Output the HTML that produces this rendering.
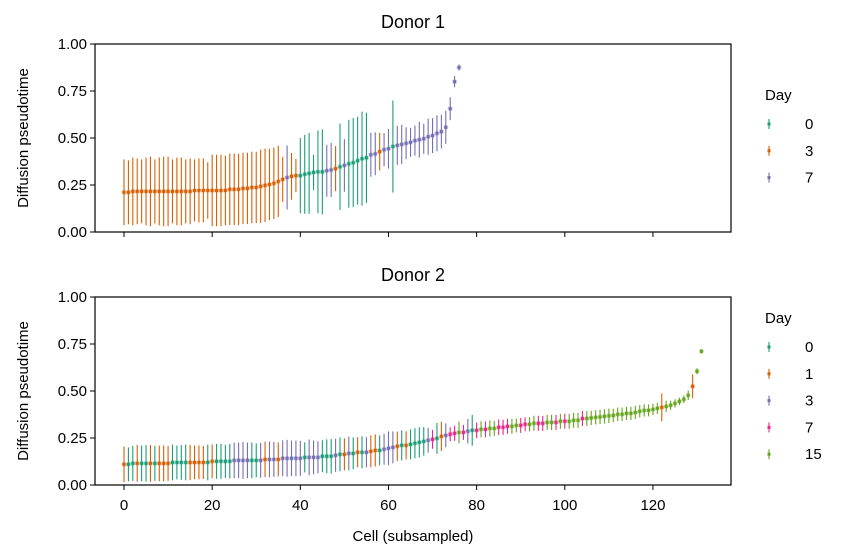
<!DOCTYPE html>
<html><head><meta charset="utf-8"><style>
body{margin:0;background:#fff;}
svg{display:block;font-family:"Liberation Sans","DejaVu Sans",sans-serif;}
</style></head><body>
<svg id="chart" width="849" height="559" viewBox="0 0 849 559">
<g id="g1"></g>
<g id="g2"></g>
</svg>
<script>
const d1Values=[.211,.211,.216,.216,.216,.216,.216,.216,.216,.216,.216,.216,.216,.216,.216,.216,.221,.221,.221,.221,.221,.221,.221,.221,.227,.227,.227,.232,.232,.237,.237,.243,.248,.253,.259,.269,.28,.29,
.296,.30,.30,.307,.312,.317,.32,.32,.326,.33,.337,.347,.354,.363,.369,.379,.39,.395,.411,.416,.427,.438,.443,.455,.461,.466,.472,.477,.486,.491,.496,.507,.513,.525,.534,.557,.656,.80,.875];
const d1Errors=[.175,.17,.18,.175,.17,.18,.185,.17,.18,.185,.185,.17,.18,.18,.17,.175,.165,.17,.17,.15,.19,.19,.19,.185,.19,.19,.19,.19,.19,.19,.19,.195,.195,.19,.19,.19,.12,.17,
.124,.088,.2,.21,.215,.094,.22,.226,.138,.144,.12,.23,.14,.234,.237,.234,.25,.24,.117,.114,.1,.088,.106,.245,.104,.104,.085,.077,.08,.095,.08,.096,.093,.096,.09,.088,.061,.03,.016];
const d1Days=[3,3,3,3,3,3,3,3,3,3,3,3,3,3,3,3,3,3,3,3,3,3,3,3,3,3,3,3,3,3,3,3,3,3,3,3,3,7,3,3,0,0,0,0,0,0,7,7,3,0,7,0,0,0,0,0,7,7,3,7,7,0,7,7,7,7,7,7,7,7,7,7,7,7,7,7,7];
const d1Legend=[0,3,7];

const d2Values=[.11,.11,.115,.115,.115,.115,.115,.115,.115,.115,.115,.12,.12,.12,.12,.12,.12,.12,.12,.12,.126,.126,.126,.126,.126,.131,.131,.131,.131,.131,.131,.131,.136,.136,.136,.136,.142,.142,.142,.142,.142,.147,.147,.147,.147,.153,.153,.153,.158,.163,
.163,.168,.168,.174,.174,.174,.179,.184,.184,.19,.195,.2,.206,.211,.211,.216,.222,.227,.232,.238,.243,.248,.259,.264,.27,.275,.28,.28,.286,.291,.291,.296,.296,.301,.301,.307,.307,.312,.312,.317,.317,.323,.323,.328,.328,.328,.333,.333,.333,.339,
.339,.339,.344,.344,.354,.354,.357,.36,.362,.365,.368,.37,.376,.376,.381,.381,.386,.392,.397,.397,.402,.408,.413,.418,.424,.434,.445,.456,.477,.525,.605,.711];
const d2Errors=[.095,.09,.093,.098,.095,.097,.098,.093,.095,.095,.093,.095,.09,.093,.095,.093,.09,.09,.088,.095,.09,.093,.093,.088,.092,
.095,.095,.098,.095,.095,.09,.093,.094,.095,.093,.09,.095,.098,.095,.095,.093,.08,.095,.09,.085,.085,.09,.092,.088,.09,
.085,.09,.085,.08,.085,.08,.085,.085,.08,.082,.09,.085,.078,.08,.075,.08,.08,.08,.076,.066,
.05,.082,.078,.064,.037,.04,.058,.04,.065,.082,.042,.043,.042,.043,.04,.042,.04,.04,.04,.037,.04,.037,.038,.04,.04,.04,.04,.04,.04,.04,
.04,.04,.04,.04,.04,.04,.038,.038,.038,.038,.038,.036,.036,.036,.035,.035,.035,.033,.033,.032,.03,.03,.074,.03,.025,.022,.02,.02,.025,.064,.016,.011];
const d2Days=[1,0,0,1,0,0,1,0,1,1,1,0,0,0,0,1,1,1,1,0,1,0,0,0,0,3,3,3,3,0,0,3,1,3,3,1,3,3,3,3,3,0,3,3,3,0,0,0,3,0,
1,3,0,1,0,3,1,1,0,3,3,3,1,0,1,0,0,0,0,3,7,0,1,3,7,7,15,7,3,0,7,15,7,15,15,7,7,7,15,15,7,7,15,15,7,7,15,15,7,15,
7,15,15,15,7,15,15,15,15,15,15,15,15,15,15,15,15,15,15,15,15,15,1,15,15,15,15,15,15,1,15,15];
const d2Legend=[0,1,3,7,15];
const xTicks=[0,20,40,60,80,100,120];
const yTicks=[0,0.25,0.5,0.75,1.0];

const NS="http://www.w3.org/2000/svg";
const colors1={0:"#1b9e77",3:"#d95f02",7:"#7570b3"};
const colors2={0:"#1b9e77",1:"#d95f02",3:"#7570b3",7:"#e7298a",15:"#66a61e"};
const L=95,R=731;
function xs(i){return 124+i*4.408;}
function mk(tag,attrs,parent){const e=document.createElementNS(NS,tag);for(const k in attrs)e.setAttribute(k,attrs[k]);parent.appendChild(e);return e;}

function panel(g,top,vals,errs,days,cols,legend,title,showXLabels,legTop){
  const bot=top+188;
  const ys=v=>bot-v*188;
  const t=mk("text",{x:413,y:top-16,"text-anchor":"middle","font-size":18,fill:"#000"},g);
  t.textContent=title;
  
  
  const yl=mk("text",{x:0,y:0,transform:`translate(28,${top+94}) rotate(-90)`,"text-anchor":"middle","font-size":15,fill:"#000"},g);
  yl.textContent="Diffusion pseudotime";
  
  
  yTicks.forEach(v=>{
    mk("line",{x1:L-5,x2:L,y1:ys(v),y2:ys(v),stroke:"#000","stroke-width":1},g);
    const tl=mk("text",{x:L-8,y:ys(v)+5,"text-anchor":"end","font-size":15,fill:"#000"},g);
    tl.textContent=v.toFixed(2);
    
    
  });
  xTicks.forEach(v=>{
    mk("line",{x1:xs(v),x2:xs(v),y1:bot,y2:bot+5,stroke:"#000","stroke-width":1},g);
    if(showXLabels){
      const tl=mk("text",{x:xs(v),y:bot+25,"text-anchor":"middle","font-size":15,fill:"#000"},g);
      tl.textContent=v;
      
      
    }
  });
  vals.forEach((v,i)=>{
    const c=cols[days[i]];
    const eb=mk("line",{x1:xs(i),x2:xs(i),y1:ys(v+errs[i]),y2:ys(v-errs[i]),stroke:c,"stroke-width":1.1},g);
    
    
    mk("circle",{cx:xs(i),cy:ys(v),r:2.6,fill:c,opacity:0.3},g);
    const p=mk("rect",{x:xs(i)-1.5,y:ys(v)-1.5,width:3,height:3,fill:c},g);
    
    
  });
  const fr=mk("rect",{x:L,y:top,width:R-L,height:188,fill:"none",stroke:"#000","stroke-width":1.2},g);
  
  
  const lh=mk("text",{x:765,y:legTop,"font-size":15,fill:"#000"},g);
  lh.textContent="Day";
  
  
  legend.forEach((d,k)=>{
    const cy=legTop+24+k*26.8;
    const c=cols[d];
    mk("line",{x1:769,x2:769,y1:cy-5,y2:cy+5,stroke:c,"stroke-width":1.1},g);
    mk("rect",{x:767.5,y:cy-1.5,width:3,height:3,fill:c},g);
    const lt=mk("text",{x:805,y:cy+5,"font-size":15,fill:"#000"},g);
    lt.textContent=d;
    
    
  });
}
panel(document.getElementById("g1"),44,d1Values,d1Errors,d1Days,colors1,d1Legend,"Donor 1",false,100);
panel(document.getElementById("g2"),297,d2Values,d2Errors,d2Days,colors2,d2Legend,"Donor 2",true,323);
const xl=mk("text",{x:413,y:541,"text-anchor":"middle","font-size":15,fill:"#000"},document.getElementById("chart"));
xl.textContent="Cell (subsampled)";


</script>
</body></html>
